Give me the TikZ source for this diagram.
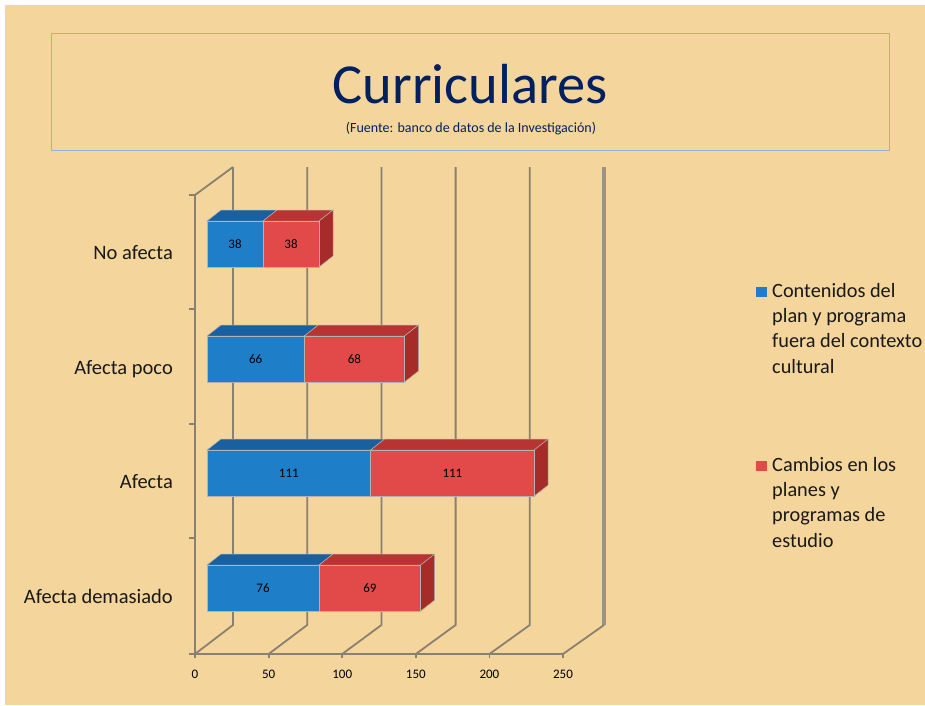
\documentclass[tikz,border=0pt]{standalone}
\usepackage{fontspec}
\setmainfont{Carlito}
\usepackage{tikz}

\definecolor{papyrus}{RGB}{244,213,156}
\definecolor{navy}{RGB}{0,32,96}
\definecolor{framebl}{RGB}{141,180,226}
\definecolor{gridgr}{RGB}{138,128,112}
\definecolor{barbl}{RGB}{31,126,200}
\definecolor{barbltop}{RGB}{24,96,160}
\definecolor{barrd}{RGB}{226,74,74}
\definecolor{barrdtop}{RGB}{184,52,50}
\definecolor{barrdside}{RGB}{166,44,42}
\definecolor{inkgr}{RGB}{25,25,25}

\begin{document}
\begin{tikzpicture}[x=1pt,y=-1pt,
  grid/.style={gridgr, line width=1.8pt},
  face/.style={draw=black!30, line width=0.5pt},
  val/.style={font=\fontsize{13}{15}\selectfont, text=black},
  cat/.style={font=\fontsize{20.5}{23}\selectfont, text=inkgr, anchor=base east, inner sep=0pt},
  leg/.style={font=\fontsize{20.3}{25.3}\selectfont, text=inkgr, anchor=base west, align=left, inner sep=0pt},
  key/.style={minimum width=11pt, minimum height=10pt, inner sep=0pt}]

  \useasboundingbox (0,0) rectangle (925,705);
  \fill[papyrus] (5,5) rectangle (925,705);

  % title box
  \draw[framebl, line width=0.8pt] (51,33) rectangle (889,150);
  \node[navy, anchor=base, inner sep=0pt, font=\fontsize{56.5}{60}\selectfont] (title) at (470,103) {Curriculares};
  \node[navy, anchor=base, inner sep=0pt, font=\fontsize{14}{16}\selectfont] (source) at (471,132) {(Fuente: banco de datos de la Investigación)};

  % walls and grid
  \draw[grid] (195,195) -- (233,167);
  \draw[grid] (195,195) -- (195,654) -- (563,654);
  \foreach \k in {0,...,4}
    \draw[grid] (233+74.2*\k,167) -- (233+74.2*\k,625) -- (195+73.6*\k,654);
  \draw[gridgr!85, line width=3.2pt] (604,167) -- (604,625);
  \draw[grid] (604,625) -- (563,654);
  \foreach \y in {195,309,424,538,654}
    \draw[grid] (189,\y) -- (195,\y);
  \foreach \v [count=\k from 0] in {0,50,100,150,200,250} {
    \draw[grid] (195+73.6*\k,654) -- (195+73.6*\k,658);
    \node[val] (t\k) at (195+73.6*\k,674) {\v};
  }

  % bars
  \foreach \y/\a/\b [count=\i] in {221/38/38,336/66/68,450/111/111,565/76/69} {
    \pgfmathsetmacro\wa{1.474*\a}
    \pgfmathsetmacro\wb{1.474*\b}
    \pgfmathsetmacro\wt{\wa+\wb}
    \fill[barbltop, face] (207,\y) -- (221,\y-11) -- (221+\wa,\y-11) -- (207+\wa,\y) -- cycle;
    \fill[barrdtop, face] (207+\wa,\y) -- (221+\wa,\y-11) -- (221+\wt,\y-11) -- (207+\wt,\y) -- cycle;
    \fill[barrdside, face] (207+\wt,\y) -- (221+\wt,\y-11) -- (221+\wt,\y+35) -- (207+\wt,\y+46) -- cycle;
    \fill[barbl, face] (207,\y) rectangle (207+\wa,\y+46);
    \fill[barrd, face] (207+\wa,\y) rectangle (207+\wt,\y+46);
    \node[val] (b\i) at (207+\wa/2,\y+23) {\a};
    \node[val] (r\i) at (207+\wa+\wb/2,\y+23) {\b};
  }

  % categories
  \foreach \t/\y [count=\i] in {No afecta/259,Afecta poco/374,Afecta/488,Afecta demasiado/603}
    \node[cat] (c\i) at (173,\y) {\t};

  % legend (base = last line)
  \node[key, fill=barbl] (k1) at (761,291.5) {};
  \node[leg] (l1) at (772,373) {Contenidos del\\plan y programa\\fuera del contexto\\cultural};
  \node[key, fill=barrd] (k2) at (761,465.5) {};
  \node[leg] (l2) at (772,547) {Cambios en los\\planes y\\programas de\\estudio};
\end{tikzpicture}
\end{document}
